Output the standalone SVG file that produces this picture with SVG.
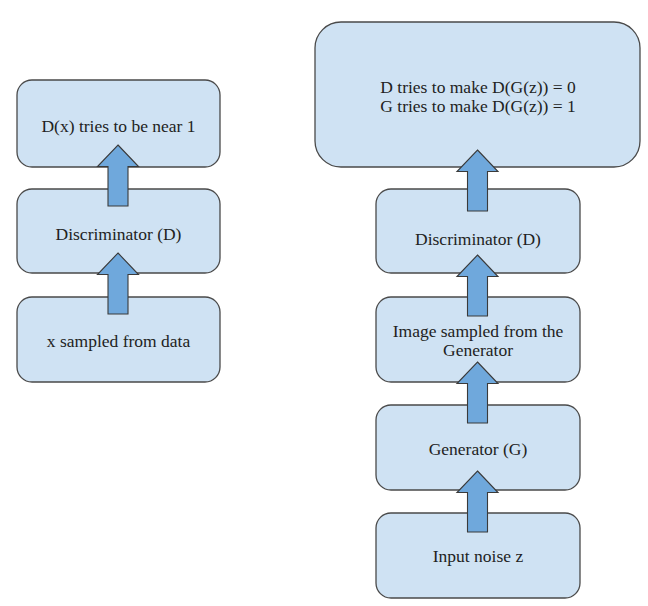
<svg xmlns="http://www.w3.org/2000/svg" width="648" height="606" viewBox="0 0 648 606">
<style>
.box{fill:#cfe2f3;stroke:#4a4a4a;stroke-width:1.3}
.arr{fill:#6fa8dc;stroke:#3a3a3a;stroke-width:1.1;stroke-linejoin:miter}
text{font-family:"Liberation Serif","Times New Roman",serif;font-size:17.5px;fill:#222;text-anchor:middle}
</style>
<defs>
<path id="up" d="M0,0 L20.5,21.5 L10,21.5 L10,61 L-10,61 L-10,21.5 L-20.5,21.5 Z"/>
</defs>
<rect width="648" height="606" fill="#ffffff"/>
<g id="n-dx">
<rect class="box" x="17" y="80" width="203" height="87" rx="15"/>
<text x="118.5" y="132">D(x) tries to be near 1</text>
</g>
<g id="n-disc-left">
<rect class="box" x="17" y="189" width="203" height="84" rx="15"/>
<text x="118.5" y="240">Discriminator (D)</text>
</g>
<g id="n-xdata">
<rect class="box" x="17" y="297" width="203" height="85" rx="15"/>
<text x="118.5" y="347">x sampled from data</text>
</g>
<g id="n-goal">
<rect class="box" x="315" y="22" width="325" height="145" rx="26"/>
<text x="478" y="93">D tries to make D(G(z)) = 0</text>
<text x="478" y="112">G tries to make D(G(z)) = 1</text>
</g>
<g id="n-disc-right">
<rect class="box" x="376" y="189" width="204" height="84" rx="15"/>
<text x="478" y="245">Discriminator (D)</text>
</g>
<g id="n-image">
<rect class="box" x="376" y="297" width="204" height="85" rx="15"/>
<text x="478" y="337">Image sampled from the</text>
<text x="478" y="356">Generator</text>
</g>
<g id="n-gen">
<rect class="box" x="376" y="405" width="204" height="85" rx="15"/>
<text x="478" y="455">Generator (G)</text>
</g>
<g id="n-noise">
<rect class="box" x="376" y="513" width="204" height="85" rx="15"/>
<text x="478" y="562">Input noise z</text>
</g>
<g id="connectors">
<use href="#up" class="arr" x="118" y="145"/>
<use href="#up" class="arr" x="118" y="253"/>
<use href="#up" class="arr" x="477.5" y="150"/>
<use href="#up" class="arr" x="477.5" y="255"/>
<use href="#up" class="arr" x="477.5" y="362"/>
<use href="#up" class="arr" x="477.5" y="471"/>
</g>
</svg>
